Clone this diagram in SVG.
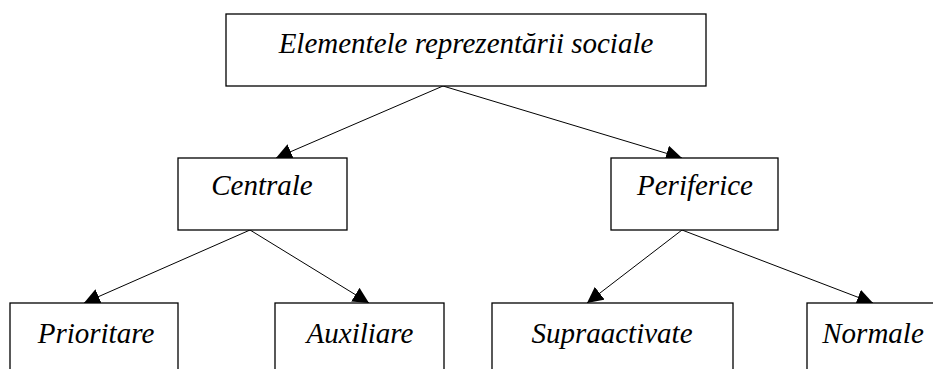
<svg xmlns="http://www.w3.org/2000/svg" width="933" height="369" viewBox="0 0 933 369">
<style>
.box{fill:#fff;stroke:#000;stroke-width:1.3}
.lbl{font-family:'Liberation Serif','Times New Roman',serif;font-style:italic;font-size:29px;fill:#000;text-anchor:middle}
.con{stroke:#000;stroke-width:1;fill:none;marker-end:url(#ah)}
</style>
<defs>
<marker id="ah" markerUnits="userSpaceOnUse" markerWidth="17" markerHeight="16" refX="16" refY="8" orient="auto">
<path d="M0,0 L16,8 L0,16 Z" fill="#000"/>
</marker>
</defs>
<g id="connectors">
<line class="con" x1="443" y1="86" x2="276" y2="158"/>
<line class="con" x1="443" y1="86" x2="682" y2="158"/>
<line class="con" x1="250" y1="230" x2="84" y2="303"/>
<line class="con" x1="250" y1="230" x2="369" y2="303"/>
<line class="con" x1="682" y1="230" x2="587" y2="303"/>
<line class="con" x1="682" y1="230" x2="873" y2="303"/>
</g>
<g id="n-root">
<rect class="box" x="226" y="14" width="480" height="72"/>
<text class="lbl" x="466" y="53">Elementele reprezentării sociale</text>
</g>
<g id="n-centrale">
<rect class="box" x="178" y="158" width="169" height="72"/>
<text class="lbl" x="262" y="195">Centrale</text>
</g>
<g id="n-periferice">
<rect class="box" x="611" y="158" width="167" height="72"/>
<text class="lbl" x="695" y="195">Periferice</text>
</g>
<g id="n-prioritare">
<rect class="box" x="10" y="303" width="168" height="80"/>
<text class="lbl" x="96" y="343">Prioritare</text>
</g>
<g id="n-auxiliare">
<rect class="box" x="275" y="303" width="169" height="80"/>
<text class="lbl" x="360" y="343">Auxiliare</text>
</g>
<g id="n-supraactivate">
<rect class="box" x="492" y="303" width="241" height="80"/>
<text class="lbl" x="612" y="343">Supraactivate</text>
</g>
<g id="n-normale">
<rect class="box" x="807" y="303" width="160" height="80"/>
<text class="lbl" x="873" y="343">Normale</text>
</g>
</svg>
